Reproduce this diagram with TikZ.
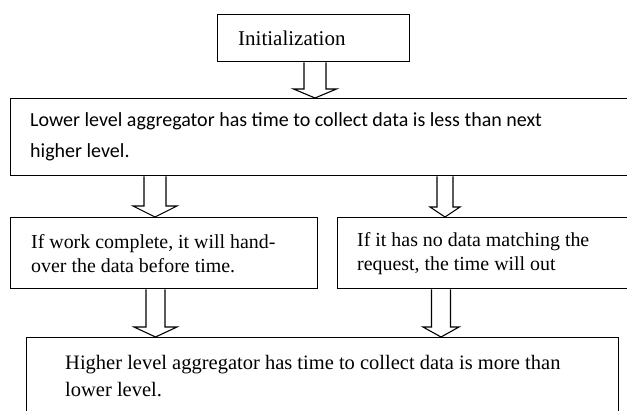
\documentclass[tikz,border=0pt]{standalone}
\usepackage{fontspec}
\setmainfont{Liberation Serif}
\newfontfamily\calibri{Carlito}
\usetikzlibrary{calc}
\newcommand\blockarr[6]{% source, target, centre x, shaft half width, head half width, head length
  \draw[blk] let \p1=(#1.south), \p2=(#2.north) in
    (#3-#4,\y1) -- (#3-#4,\y2+#6) -- (#3-#5,\y2+#6) -- (#3,\y2) --
    (#3+#5,\y2+#6) -- (#3+#4,\y2+#6) -- (#3+#4,\y1);
}
\begin{document}
\begin{tikzpicture}[x=1pt,y=1pt,
  box/.style={draw,line width=1.4pt,inner sep=0pt,anchor=north west},
  txt/.style={inner sep=0pt,align=left,anchor=west},
  tnr/.style={font=\fontsize{19.9}{24}\selectfont},
  cal/.style={font=\calibri\fontsize{20}{31}\selectfont},
  blk/.style={draw,line width=1.1pt,line join=miter}]
\useasboundingbox (0,0) rectangle (627,410);
\clip (0,0) rectangle (627,410);
% boxes
\node[box,minimum width=192pt,minimum height=47pt] (init) at (217,396) {};
\node[box,minimum width=640pt,minimum height=77pt] (low) at (10,312) {};
\node[box,minimum width=307pt,minimum height=71pt] (done) at (10,193) {};
\node[box,minimum width=320pt,minimum height=71pt] (nodata) at (337,193) {};
\node[box,minimum width=592pt,minimum height=80pt] (high) at (26,73) {};
% texts
\node[txt,font=\fontsize{21}{24}\selectfont] (tinit) at ([xshift=21pt]init.west) {Initialization};
\node[txt,cal] (tlow) at ([xshift=20pt]low.west)
  {Lower level aggregator has time to collect data is less than next\\higher level.};
\node[txt,tnr] (tdone) at ([xshift=21pt]done.west)
  {If work complete, it will hand-\\over the data before time.};
\node[txt,tnr] (tnodata) at ([xshift=20pt]nodata.west)
  {If it has no data matching the\\request, the time will out};
\node[txt,font=\fontsize{20.5}{27}\selectfont] (thigh) at (65,34)
  {Higher level aggregator has time to collect data is more than\\lower level.};
% block arrows
\blockarr{init}{low}{315}{11}{21.5}{9}
\blockarr{low}{done}{155}{11}{22}{11}
\blockarr{low}{nodata}{445}{8}{15}{10}
\blockarr{done}{high}{155.5}{9.5}{21.5}{10}
\blockarr{nodata}{high}{441}{9.5}{18}{10}
\end{tikzpicture}
\end{document}
